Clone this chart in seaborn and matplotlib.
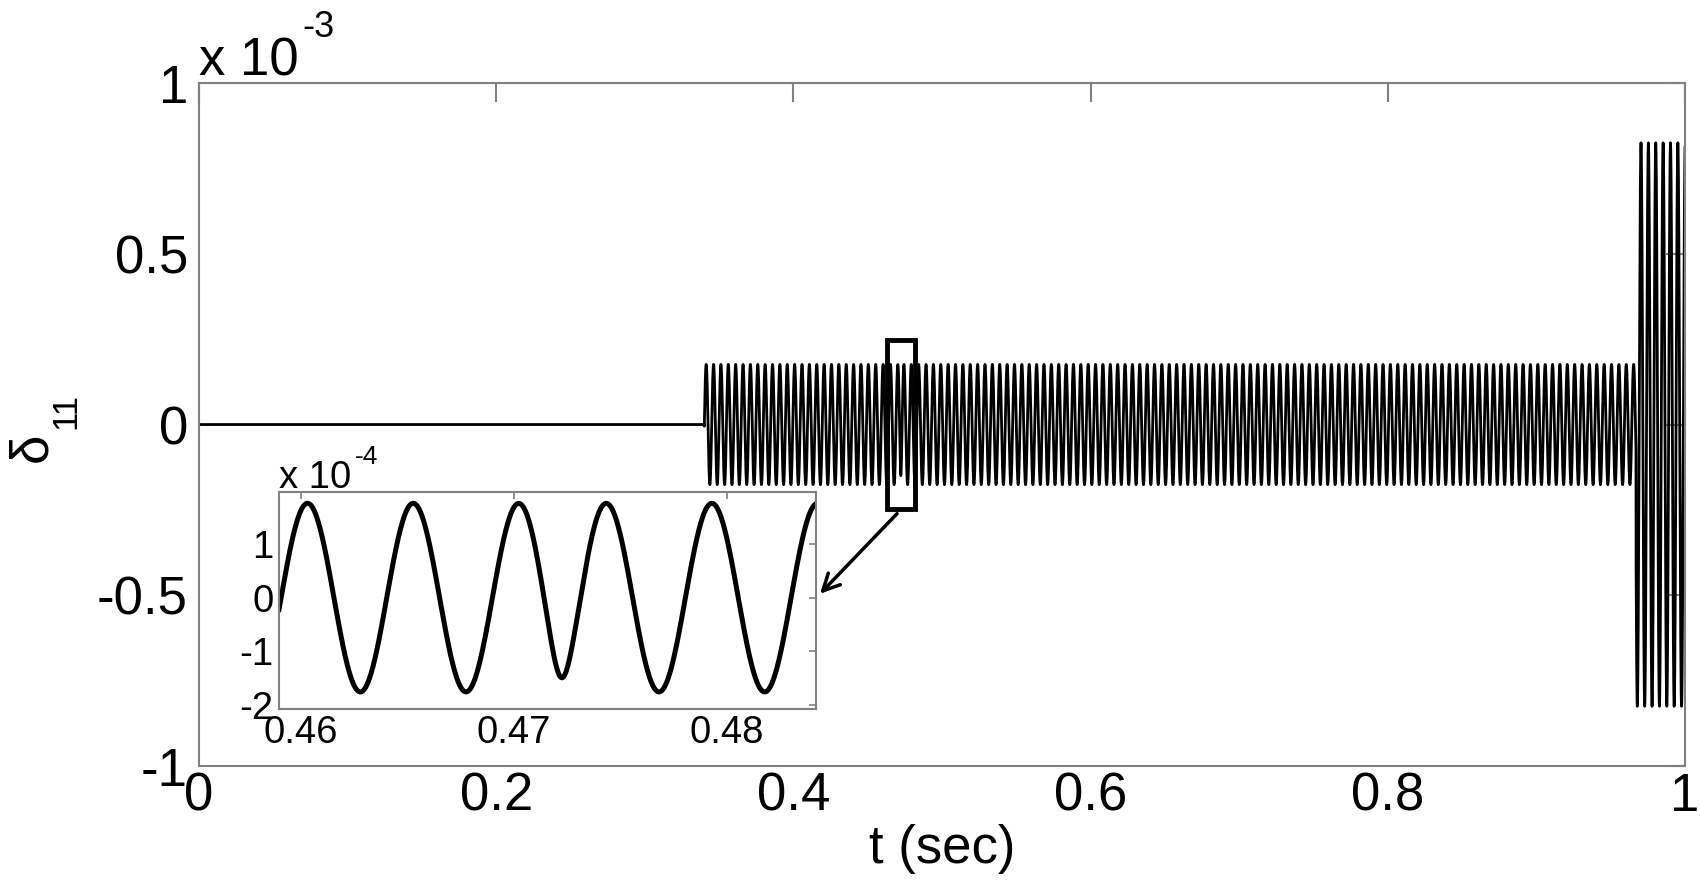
import numpy as np
import pandas as pd
import matplotlib
matplotlib.use("Agg")
import matplotlib.pyplot as plt
import matplotlib.patches as patches
from matplotlib.ticker import FuncFormatter
import seaborn as sns

# Stil ayarlari
sns.set_theme(style="white")
plt.rcParams['font.family'] = ['Liberation Sans', 'DejaVu Sans']
plt.rcParams['axes.unicode_minus'] = False
plt.rcParams['text.color'] = 'black'
plt.rcParams['axes.labelcolor'] = 'black'

# Sinyal parametreleri
seg_start = [0.0, 0.34, 0.967]          # s, segment baslangiclari
seg_amp = [0.0, 1.76e-4, 8.25e-4]       # genlik
t_end = 1.0
freq_hz = 201.6                         # ~0.00496 s periyot
peak_ref = 0.46031                      # bilinen tepe zamani
slip_times = [0.4722]                   # faz kaymasi (sig cukur)
slip_phase = 1.09                       # rad
slip_width = 0.0006
slip_dip = 0.15
dt = 1e-5

# Eksen / etiket degerleri
x_ticks = [0, 0.2, 0.4, 0.6, 0.8, 1]
y_ticks = [-1e-3, -0.5e-3, 0, 0.5e-3, 1e-3]
inset_xlim = [0.45897, 0.48418]
inset_ylim = [-2.08e-4, 1.97e-4]
inset_xticks = [0.46, 0.47, 0.48]
inset_yticks = [-2e-4, -1e-4, 0, 1e-4]
zoom_box = [0.4628, 0.4818, -0.247e-3, 0.249e-3]   # x0, x1, y0, y1
arrow_from = [0.4697, -0.261e-3]
arrow_to = [0.4179, -0.4956e-3]

# Sinyali olustur
t = np.arange(0, t_end + dt / 2, dt)
sig = lambda x, s: 0.5 * (1 + np.tanh((x - s) / slip_width))
theta = 2 * np.pi * freq_hz * (t - peak_ref) + np.pi / 2
env = np.ones_like(t)
for s in slip_times:
    theta += slip_phase * (sig(t, s) - sig(peak_ref, s))
    env -= slip_dip * np.exp(-((t - s) / (1.5 * slip_width)) ** 2)
amp = np.zeros_like(t)
for start, a in zip(seg_start, seg_amp):
    amp[t >= start] = a
y = amp * env * np.sin(theta)
df = pd.DataFrame({'t': t, 'delta': y})

spine_col = '#808080'
fig = plt.figure(figsize=(17, 8.93), dpi=100)
ax = fig.add_axes([0.1171, 0.1422, 0.8741, 0.7648])
sns.lineplot(data=df, x='t', y='delta', ax=ax, color='black', linewidth=2.0,
             estimator=None, sort=False)
ax.set_xlim(0, 1)
ax.set_ylim(-1e-3, 1e-3)
ax.set_xticks(x_ticks)
ax.set_yticks(y_ticks)
ax.xaxis.set_major_formatter(FuncFormatter(lambda v, p: f'{v:g}'))
ax.yaxis.set_major_formatter(FuncFormatter(lambda v, p: f'{v / 1e-3:g}'))
ax.tick_params(direction='in', length=14, width=1.5, color=spine_col,
               labelcolor='black', labelsize=38, top=True, right=True)
ax.tick_params(axis='x', pad=4)
ax.tick_params(axis='y', pad=8)
for sp in ax.spines.values():
    sp.set_color(spine_col)
    sp.set_linewidth(1.5)
ax.set_xlabel('t (sec)', fontsize=38, labelpad=2)
ax.set_ylabel('')

# Ust kosedeki carpan ve y etiketi
fig.text(199 / 1700, 1 - 75 / 893, 'x 10', fontsize=38, ha='left', va='baseline')
fig.text(302 / 1700, 1 - 37 / 893, '-3', fontsize=26, ha='left', va='baseline')
fig.text(32 / 1700, 1 - 447 / 893, 'δ', fontsize=38, rotation=90,
         ha='center', va='center')
fig.text(66 / 1700, 1 - 411 / 893, '11', fontsize=25, rotation=90,
         ha='center', va='center')

# Yakinlastirma kutusu ve ok
ax.add_patch(patches.Rectangle((zoom_box[0], zoom_box[2]),
                               zoom_box[1] - zoom_box[0], zoom_box[3] - zoom_box[2],
                               fill=False, edgecolor='black', linewidth=3.5, zorder=5))
ax.annotate('', xy=arrow_to, xytext=arrow_from,
            arrowprops=dict(arrowstyle='->', color='black', lw=2.5,
                            mutation_scale=30, shrinkA=0, shrinkB=0))

# Ic grafik
axin = fig.add_axes([0.1641, 0.2060, 0.3159, 0.2430])
mask = (t >= inset_xlim[0] - 0.001) & (t <= inset_xlim[1] + 0.001)
sns.lineplot(data=df[mask], x='t', y='delta', ax=axin, color='black',
             linewidth=3.6, estimator=None, sort=False)
axin.set_xlim(inset_xlim)
axin.set_ylim(inset_ylim)
axin.set_xticks(inset_xticks)
axin.set_yticks(inset_yticks)
axin.xaxis.set_major_formatter(FuncFormatter(lambda v, p: f'{v:g}'))
axin.yaxis.set_major_formatter(FuncFormatter(lambda v, p: f'{v / 1e-4:g}'))
axin.tick_params(direction='in', length=5, width=1.2, color=spine_col,
                 labelcolor='black', labelsize=27.5, top=True, right=True)
axin.tick_params(axis='x', pad=4.5)
axin.tick_params(axis='y', pad=4)
for sp in axin.spines.values():
    sp.set_color(spine_col)
    sp.set_linewidth(1.5)
axin.set_xlabel('')
axin.set_ylabel('')
fig.text(279 / 1700, 1 - 488 / 893, 'x 10', fontsize=27.5, ha='left', va='baseline')
fig.text(355 / 1700, 1 - 464 / 893, '-4', fontsize=19, ha='left', va='baseline')

plt.savefig('out.png', dpi=100)
